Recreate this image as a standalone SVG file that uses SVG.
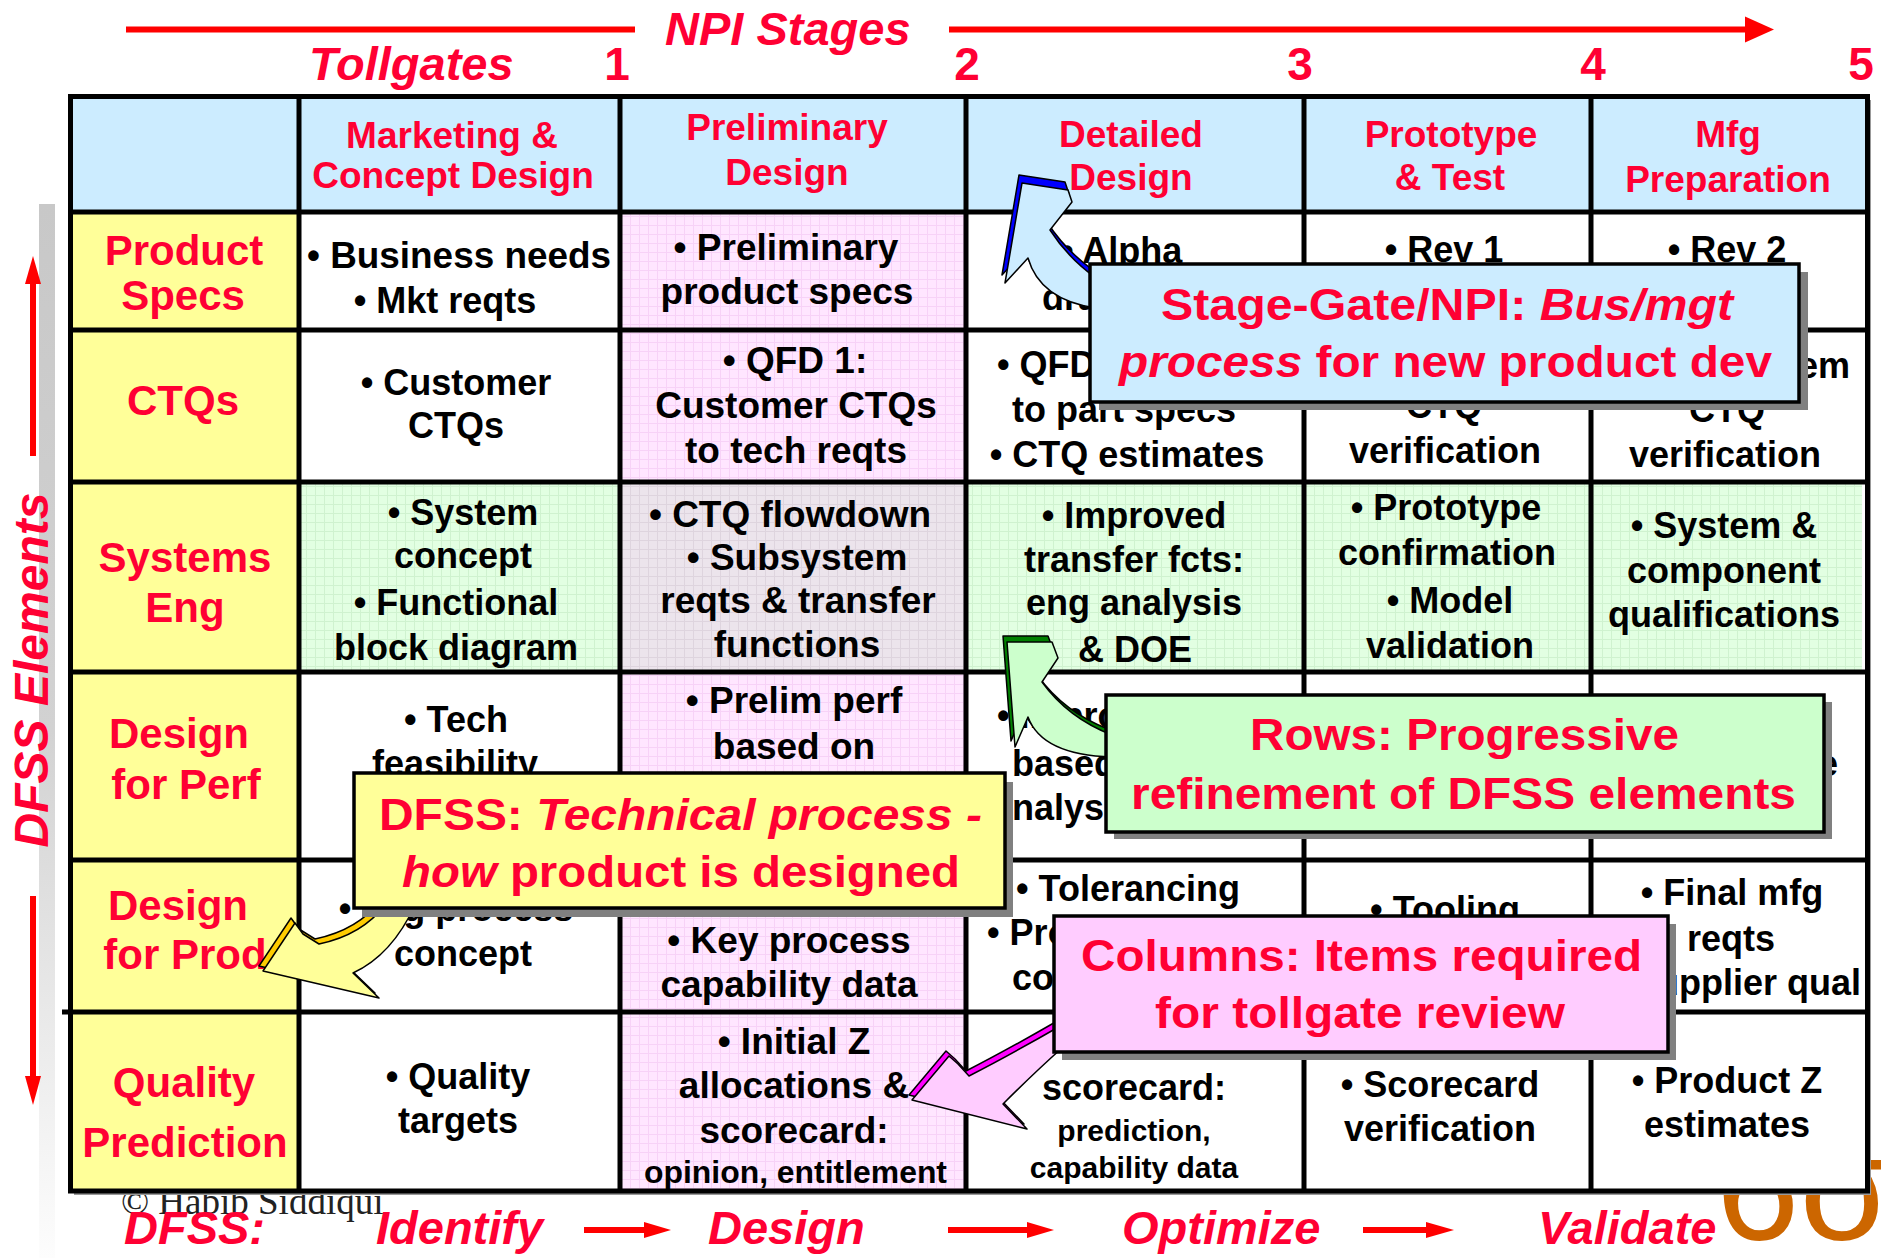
<svg xmlns="http://www.w3.org/2000/svg" width="1881" height="1258" viewBox="0 0 1881 1258">
<defs>
  <pattern id="pinkGrid" width="9" height="9" patternUnits="userSpaceOnUse">
    <rect width="9" height="9" fill="#FFE6FF"/>
    <path d="M0 0.5H9M0.5 0V9" stroke="#F7D2F7" stroke-width="1"/>
  </pattern>
  <pattern id="greenGrid" width="9" height="9" patternUnits="userSpaceOnUse">
    <rect width="9" height="9" fill="#E2FFE2"/>
    <path d="M0 0.5H9M0.5 0V9" stroke="#CFF2CF" stroke-width="1"/>
  </pattern>
  <pattern id="grayGrid" width="9" height="9" patternUnits="userSpaceOnUse">
    <rect width="9" height="9" fill="#ECE4EC"/>
    <path d="M0 0.5H9M0.5 0V9" stroke="#DED4DE" stroke-width="1"/>
  </pattern>
  <linearGradient id="sideBar" x1="0" y1="0" x2="0" y2="1">
    <stop offset="0" stop-color="#C8C8C8"/>
    <stop offset="0.5" stop-color="#D2D2D2"/>
    <stop offset="1" stop-color="#FDFDFD"/>
  </linearGradient>
  <style>
    text { font-family: "Liberation Sans", Arial, sans-serif; font-weight: bold; }
    .red { fill: #FF0033; }
    .it { font-style: italic; }
    .title { font-size: 47px; }
    .num { font-size: 46px; text-anchor: middle; }
    .hdr { font-size: 37px; text-anchor: middle; }
    .lbl { font-size: 42px; text-anchor: middle; }
    .c { font-size: 36px; text-anchor: middle; fill: #000; }
    .cp { font-size: 37px; text-anchor: middle; fill: #000; }
    .cs { font-size: 36px; text-anchor: start; fill: #000; }
    .ce { font-size: 36px; text-anchor: end; fill: #000; }
    .sm { font-size: 30px; text-anchor: middle; fill: #000; }
    .call { font-size: 44px; text-anchor: start; }
    .copy { font-family: "Liberation Serif", "Times New Roman", serif; font-weight: normal; font-size: 37px; fill: #222; }
    .logo { font-weight: normal; font-size: 150px; fill: #CC6600; }
    .grid { fill: none; stroke: #000; stroke-width: 5; }
    .box { stroke: #000; stroke-width: 3.5; }
    .shadow { fill: #808080; }
    .flow { stroke: #FF0000; stroke-width: 6; fill: none; }
    .head { fill: #FF0000; }
    .face { stroke: #000; stroke-width: 1.5; stroke-linejoin: round; }
  </style>
</defs>

<rect width="1881" height="1258" fill="#FFFFFF"/>

<!-- side axis: DFSS Elements -->
<g id="axis-dfss-elements">
  <rect x="39" y="204" width="16" height="1054" fill="url(#sideBar)"/>
  <line x1="33" y1="282" x2="33" y2="456" class="flow" stroke-width="5"/>
  <polygon points="25,284 33,256 41,284" class="head"/>
  <line x1="33" y1="896" x2="33" y2="1078" class="flow" stroke-width="5"/>
  <polygon points="25,1076 33,1105 41,1076" class="head"/>
  <text class="red it" font-size="48" text-anchor="middle" transform="translate(48,670) rotate(-90)">DFSS Elements</text>
</g>

<!-- top axis: NPI stages and tollgates -->
<g id="axis-npi-stages">
  <text x="665" y="45" class="red it title">NPI Stages</text>
  <text x="309" y="80" class="red it title">Tollgates</text>
  <text x="617" y="80" class="red num">1</text>
  <text x="967" y="80" class="red num">2</text>
  <text x="1300" y="80" class="red num">3</text>
  <text x="1593" y="80" class="red num">4</text>
  <text x="1861" y="80" class="red num">5</text>
</g>

<!-- marks lying under the table -->
<g id="footer-marks">
  <text x="121" y="1214" class="copy">© Habib Siddiqui</text>
  <text x="1716" y="1240" class="logo">6σ</text>
</g>

<!-- table -->
<g id="table">
  <rect x="74" y="100" width="1797" height="1095" fill="#999999"/>
  <rect x="70.5" y="96.5" width="1797" height="1094.5" fill="#FFFFFF"/>
  <rect x="70.5" y="96.5" width="1797" height="115.5" fill="#CCECFF"/>
  <rect x="70.5" y="212" width="228.5" height="979" fill="#FFFF99"/>
  <rect x="620" y="212" width="346" height="979" fill="url(#pinkGrid)"/>
  <rect x="620" y="482" width="346" height="190" fill="url(#grayGrid)"/>
  <rect x="299" y="482" width="321" height="190" fill="url(#greenGrid)"/>
  <rect x="966" y="482" width="896" height="190" fill="url(#greenGrid)"/>
  <path class="grid" d="M68 96.5H1870M68 212H1870M68 330H1870M68 482H1870M68 672H1870M68 860H1870M62 1012H1870M68 1191H1870M70.5 94V1193.5M299 94V1193.5M620 94V1193.5M966 94V1193.5M1304 94V1193.5M1591 94V1193.5M1867.5 94V1193.5"/>
</g>

<!-- column headers -->
<g id="col-marketing">
  <text x="452" y="148" class="red hdr">Marketing &amp;</text>
  <text x="453" y="188" class="red hdr">Concept Design</text>
</g>
<g id="col-preliminary">
  <text x="787" y="140" class="red hdr">Preliminary</text>
  <text x="787" y="185" class="red hdr">Design</text>
</g>
<g id="col-detailed">
  <text x="1131" y="147" class="red hdr">Detailed</text>
  <text x="1131" y="190" class="red hdr">Design</text>
</g>
<g id="col-prototype">
  <text x="1451" y="147" class="red hdr">Prototype</text>
  <text x="1450" y="190" class="red hdr">&amp; Test</text>
</g>
<g id="col-mfg">
  <text x="1728" y="147" class="red hdr">Mfg</text>
  <text x="1728" y="192" class="red hdr">Preparation</text>
</g>

<!-- row labels -->
<g id="row-product-specs">
  <text x="184" y="265" class="red lbl">Product</text>
  <text x="183" y="310" class="red lbl">Specs</text>
</g>
<g id="row-ctqs">
  <text x="183" y="415" class="red lbl">CTQs</text>
</g>
<g id="row-systems-eng">
  <text x="185" y="572" class="red lbl">Systems</text>
  <text x="185" y="622" class="red lbl">Eng</text>
</g>
<g id="row-design-perf">
  <text x="179" y="748" class="red lbl">Design</text>
  <text x="186" y="799" class="red lbl">for Perf</text>
</g>
<g id="row-design-prod">
  <text x="178" y="920" class="red lbl">Design</text>
  <text x="185" y="969" class="red lbl">for Prod</text>
</g>
<g id="row-quality">
  <text x="184" y="1097" class="red lbl">Quality</text>
  <text x="185" y="1157" class="red lbl">Prediction</text>
</g>

<!-- cells: Marketing & Concept Design -->
<g id="cells-marketing">
  <text x="307" y="268" class="cs" textLength="304" lengthAdjust="spacingAndGlyphs">• Business needs</text>
  <text x="445" y="313" class="c">• Mkt reqts</text>
  <text x="456" y="395" class="c">• Customer</text>
  <text x="456" y="438" class="c">CTQs</text>
  <text x="463" y="525" class="c">• System</text>
  <text x="463" y="568" class="c">concept</text>
  <text x="456" y="615" class="c">• Functional</text>
  <text x="456" y="660" class="c">block diagram</text>
  <text x="456" y="732" class="c">• Tech</text>
  <text x="455" y="776" class="c">feasibility</text>
  <text x="456" y="921" class="c">• Mfg process</text>
  <text x="463" y="966" class="c">concept</text>
  <text x="458" y="1089" class="c">• Quality</text>
  <text x="458" y="1133" class="c">targets</text>
</g>

<!-- cells: Preliminary Design -->
<g id="cells-preliminary">
  <text x="786" y="260" class="cp">• Preliminary</text>
  <text x="787" y="304" class="cp">product specs</text>
  <text x="795" y="373" class="cp">• QFD 1:</text>
  <text x="796" y="418" class="cp">Customer CTQs</text>
  <text x="796" y="463" class="cp">to tech reqts</text>
  <text x="790" y="527" class="cp">• CTQ flowdown</text>
  <text x="797" y="570" class="cp">• Subsystem</text>
  <text x="798" y="613" class="cp">reqts &amp; transfer</text>
  <text x="797" y="657" class="cp">functions</text>
  <text x="794" y="713" class="cp">• Prelim perf</text>
  <text x="794" y="759" class="cp">based on</text>
  <text x="789" y="953" class="cp">• Key process</text>
  <text x="789" y="997" class="cp">capability data</text>
  <text x="794" y="1054" class="cp">• Initial Z</text>
  <text x="794" y="1098" class="cp">allocations &amp;</text>
  <text x="794" y="1143" class="cp">scorecard:</text>
  <text x="644" y="1183" class="cs" textLength="303" lengthAdjust="spacingAndGlyphs" style="font-size:31px">opinion, entitlement</text>
</g>

<!-- cells: Detailed Design -->
<g id="cells-detailed">
  <text x="1061" y="263" class="cs">• Alpha</text>
  <text x="1042" y="310" class="cs">drawings</text>
  <text x="997" y="377" class="cs">• QFD 2: tech reqts</text>
  <text x="1012" y="422" class="cs">to part specs</text>
  <text x="1127" y="467" class="c">• CTQ estimates</text>
  <text x="1134" y="528" class="c">• Improved</text>
  <text x="1134" y="572" class="c">transfer fcts:</text>
  <text x="1134" y="615" class="c">eng analysis</text>
  <text x="1135" y="662" class="c">&amp; DOE</text>
  <text x="997" y="728" class="cs">• Improved perf</text>
  <text x="1012" y="776" class="cs">based on eng</text>
  <text x="992" y="820" class="cs">analysis</text>
  <text x="1128" y="901" class="c">• Tolerancing</text>
  <text x="987" y="945" class="cs">• Process</text>
  <text x="1012" y="990" class="cs">control</text>
  <text x="1134" y="1100" class="c">scorecard:</text>
  <text x="1134" y="1141" class="sm">prediction,</text>
  <text x="1134" y="1178" class="sm">capability data</text>
</g>

<!-- cells: Prototype & Test -->
<g id="cells-prototype">
  <text x="1444" y="262" class="c">• Rev 1</text>
  <text x="1444" y="418" class="c">CTQ</text>
  <text x="1445" y="463" class="c">verification</text>
  <text x="1446" y="520" class="c">• Prototype</text>
  <text x="1447" y="565" class="c">confirmation</text>
  <text x="1450" y="613" class="c">• Model</text>
  <text x="1450" y="658" class="c">validation</text>
  <text x="1445" y="922" class="c">• Tooling</text>
  <text x="1440" y="1097" class="c">• Scorecard</text>
  <text x="1440" y="1141" class="c">verification</text>
</g>

<!-- cells: Mfg Preparation -->
<g id="cells-mfg">
  <text x="1727" y="262" class="c">• Rev 2</text>
  <text x="1850" y="378" class="ce">• System</text>
  <text x="1727" y="422" class="c">CTQ</text>
  <text x="1725" y="467" class="c">verification</text>
  <text x="1724" y="538" class="c">• System &amp;</text>
  <text x="1724" y="583" class="c">component</text>
  <text x="1724" y="627" class="c">qualifications</text>
  <text x="1838" y="776" class="ce">performance</text>
  <text x="1732" y="905" class="c">• Final mfg</text>
  <text x="1731" y="951" class="c">reqts</text>
  <text x="1861" y="995" class="ce">• Supplier qual</text>
  <text x="1727" y="1093" class="c">• Product Z</text>
  <text x="1727" y="1137" class="c">estimates</text>
</g>

<!-- connectors: stage arrow, DFSS flow arrows and callout pointers -->
<g id="connectors">
  <line x1="126" y1="29.5" x2="635" y2="29.5" class="flow"/>
  <line x1="949" y1="29.5" x2="1748" y2="29.5" class="flow"/>
  <polygon points="1745,16.5 1774,29.5 1745,42.5" class="head"/>

  <line x1="584" y1="1230" x2="648" y2="1230" class="flow"/>
  <polygon points="644,1222 671,1230 644,1238" class="head"/>
  <line x1="948" y1="1230" x2="1030" y2="1230" class="flow"/>
  <polygon points="1027,1222 1054,1230 1027,1238" class="head"/>
  <line x1="1363" y1="1230" x2="1429" y2="1230" class="flow"/>
  <polygon points="1426,1222 1454,1230 1426,1238" class="head"/>

  <!-- blue pointer toward Detailed Design -->
  <path transform="translate(-3,-8)" class="face" fill="#0000FF" d="M1022,183 L1068,190 L1072,202 L1050,230 Q1068,258 1096,278 L1096,308 Q1040,300 1028,258 L1005,283 Z"/>
  <path class="face" fill="#CCECFF" d="M1022,183 L1068,190 L1072,202 L1050,230 Q1068,258 1096,278 L1096,308 Q1040,300 1028,258 L1005,283 Z"/>

  <!-- green pointer toward Systems Eng row -->
  <path transform="translate(-4,-6)" class="face" fill="#008000" d="M1007,642 L1052,642 L1058,658 L1042,682 Q1068,718 1112,735 L1112,757 Q1042,755 1028,717 L1015,747 Z"/>
  <path class="face" fill="#CCFFCC" d="M1007,642 L1052,642 L1058,658 L1042,682 Q1068,718 1112,735 L1112,757 Q1042,755 1028,717 L1015,747 Z"/>

  <!-- yellow pointer toward Design for Prod -->
  <path transform="translate(-4,-5)" class="face" fill="#FFCC00" d="M295,923 L263,971 L379,998 L353,973 Q392,955 415,905 L385,905 Q362,935 319,944 L303,934 Z"/>
  <path class="face" fill="#FFFF99" d="M295,923 L263,971 L379,998 L353,973 Q392,955 415,905 L385,905 Q362,935 319,944 L303,934 Z"/>

  <!-- magenta pointer toward Preliminary Design cell -->
  <path transform="translate(-3,-5)" class="face" fill="#FF00FF" d="M949,1056 L912,1100 L1027,1129 L1003,1104 Q1035,1072 1062,1048 L1062,1025 Q1010,1055 969,1076 L958,1064 Z"/>
  <path class="face" fill="#FFCCFF" d="M949,1056 L912,1100 L1027,1129 L1003,1104 Q1035,1072 1062,1048 L1062,1025 Q1010,1055 969,1076 L958,1064 Z"/>
</g>

<!-- bottom DFSS phase labels -->
<g id="dfss-phases">
  <text x="124" y="1244" class="red it title">DFSS:</text>
  <text x="376" y="1244" class="red it title">Identify</text>
  <text x="708" y="1244" class="red it title">Design</text>
  <text x="1122" y="1244" class="red it title">Optimize</text>
  <text x="1538" y="1244" class="red it title">Validate</text>
</g>

<!-- callouts -->
<g id="callout-stage-gate">
  <rect x="1099" y="272" width="709" height="138" class="shadow"/>
  <rect x="1090" y="264" width="709" height="138" fill="#CCECFF" class="box"/>
  <text x="1161" y="320" class="red call" textLength="572" lengthAdjust="spacingAndGlyphs">Stage-Gate/NPI: <tspan class="it">Bus/mgt</tspan></text>
  <text x="1119" y="377" class="red call" textLength="653" lengthAdjust="spacingAndGlyphs"><tspan class="it">process</tspan> for new product dev</text>
</g>
<g id="callout-rows">
  <rect x="1114" y="702" width="718" height="137" class="shadow"/>
  <rect x="1106" y="695" width="718" height="137" fill="#CCFFCC" class="box"/>
  <text x="1250" y="750" class="red call" textLength="429" lengthAdjust="spacingAndGlyphs">Rows: Progressive</text>
  <text x="1131" y="809" class="red call" textLength="665" lengthAdjust="spacingAndGlyphs">refinement of DFSS elements</text>
</g>
<g id="callout-dfss">
  <rect x="362" y="782" width="651" height="135" class="shadow"/>
  <rect x="354" y="773" width="651" height="135" fill="#FFFF99" class="box"/>
  <text x="379" y="830" class="red call" textLength="603" lengthAdjust="spacingAndGlyphs">DFSS: <tspan class="it">Technical process -</tspan></text>
  <text x="402" y="887" class="red call" textLength="558" lengthAdjust="spacingAndGlyphs"><tspan class="it">how</tspan> product is designed</text>
</g>
<g id="callout-columns">
  <rect x="1062" y="924" width="614" height="136" class="shadow"/>
  <rect x="1054" y="916" width="614" height="136" fill="#FFCCFF" class="box"/>
  <text x="1081" y="971" class="red call" textLength="561" lengthAdjust="spacingAndGlyphs">Columns: Items required</text>
  <text x="1155" y="1028" class="red call" textLength="410" lengthAdjust="spacingAndGlyphs">for tollgate review</text>
</g>
</svg>
